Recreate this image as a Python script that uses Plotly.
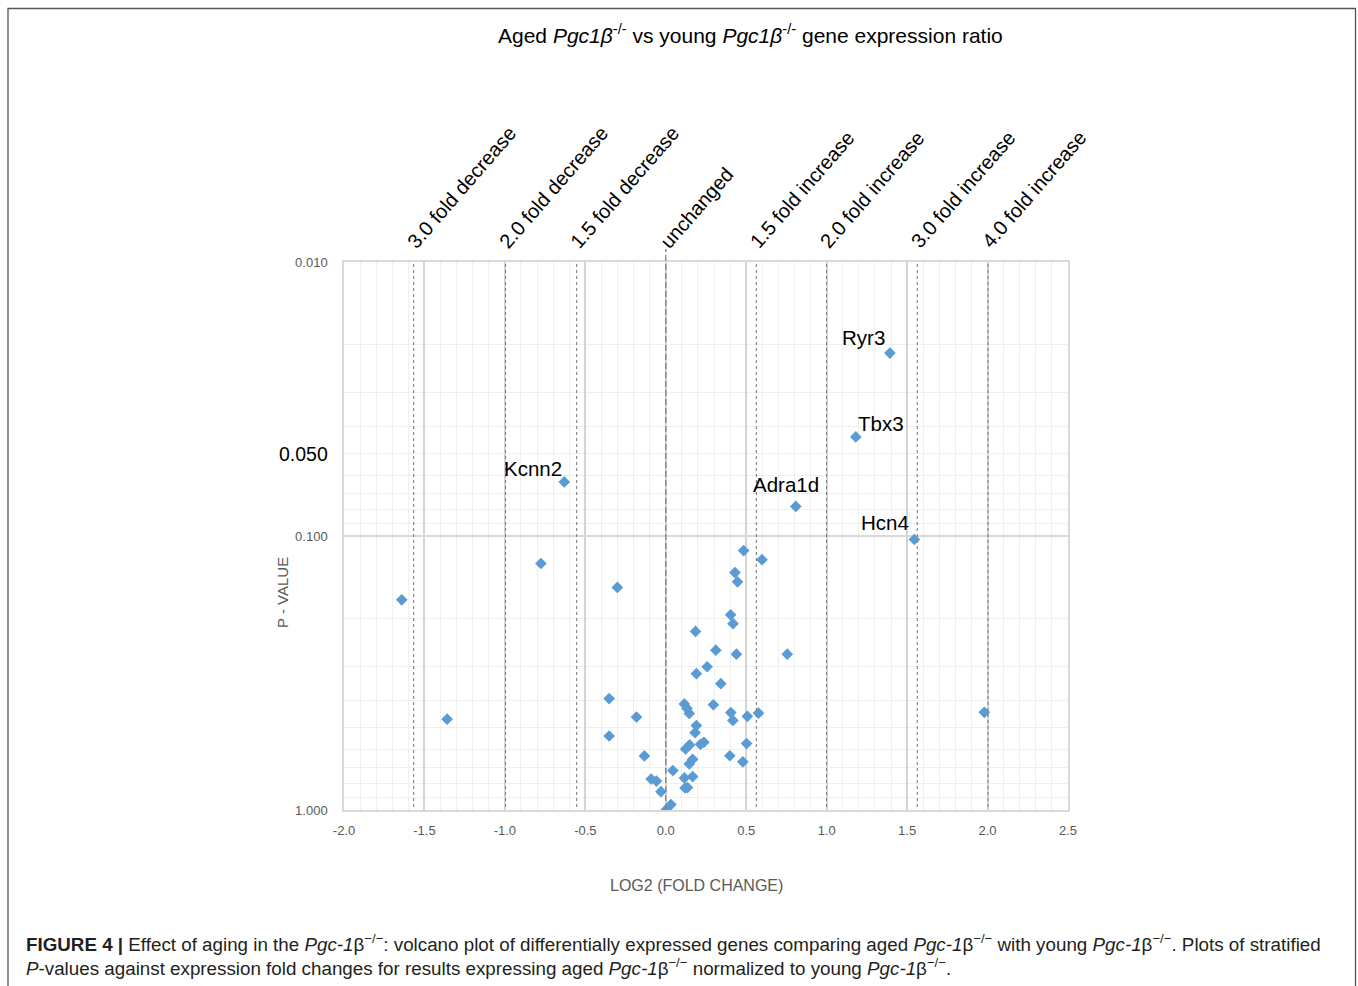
import math
import plotly.graph_objects as go

# ---- data -------------------------------------------------------------
# labelled genes (log2 fold change, p-value)
genes = ["Ryr3", "Tbx3", "Kcnn2", "Adra1d", "Hcn4"]
gene_log2fc = [1.393, 1.181, -0.631, 0.808, 1.545]
gene_pvalue = [0.0215, 0.0435, 0.0635, 0.078, 0.103]

# remaining genes
other_log2fc = [
    -1.641, -0.776, -0.301, -1.359, -0.352, -0.182, -0.352, -0.133, -0.091,
    -0.058, -0.030, 0.044, 0.004, 0.032, 0.484, 0.598, 0.430, 0.446, 0.403,
    0.418, 0.185, 0.311, 0.439, 0.755, 0.257, 0.190, 0.342, 0.115, 0.132,
    0.146, 0.296, 0.404, 0.417, 0.507, 0.576, 1.980, 0.190, 0.182, 0.216,
    0.237, 0.148, 0.123, 0.502, 0.398, 0.479, 0.167, 0.146, 0.167, 0.116,
    0.120, 0.135,
]
other_pvalue = [
    0.171, 0.126, 0.154, 0.466, 0.392, 0.458, 0.537, 0.635, 0.771,
    0.784, 0.857, 0.718, 0.995, 0.955, 0.113, 0.122, 0.136, 0.147, 0.194,
    0.209, 0.223, 0.261, 0.270, 0.270, 0.300, 0.318, 0.346, 0.410, 0.426,
    0.444, 0.413, 0.441, 0.471, 0.455, 0.443, 0.440, 0.492, 0.522, 0.576,
    0.566, 0.579, 0.599, 0.572, 0.634, 0.667, 0.653, 0.679, 0.755, 0.764,
    0.831, 0.828,
]

# fold-change reference lines
fold_labels = [
    "3.0 fold decrease", "2.0 fold decrease", "1.5 fold decrease", "unchanged",
    "1.5 fold increase", "2.0 fold increase", "3.0 fold increase", "4.0 fold increase",
]
fold_log2 = [-1.567, -0.996, -0.554, 0.0, 0.563, 0.999, 1.563, 2.003]

p_threshold = 0.05

x_ticks = [-2.0, -1.5, -1.0, -0.5, 0.0, 0.5, 1.0, 1.5, 2.0, 2.5]
y_ticks = [0.01, 0.1, 1.0]
y_ticktext = ["0.010", "0.100", "1.000"]
y_minor = [0.02, 0.03, 0.04, 0.05, 0.06, 0.07, 0.08, 0.09,
           0.2, 0.3, 0.4, 0.5, 0.6, 0.7, 0.8, 0.9]

# ---- styling ----------------------------------------------------------
W, H = 1358, 986
ML, MR, MT, MB = 344, 290, 262, 176
PW, PH = W - ML - MR, H - MT - MB

SANS = "Liberation Sans, Arial, sans-serif"
BLUE = "#5B9BD5"
TICK_GREY = "#595959"


def px_x(px):
    return (px - ML) / PW


def px_y(py):
    return (MT + PH - py) / PH


fig = go.Figure()

fig.add_trace(go.Scatter(
    x=other_log2fc + gene_log2fc,
    y=other_pvalue + gene_pvalue,
    mode="markers",
    marker=dict(symbol="diamond", size=9, color=BLUE, line=dict(width=0)),
    hoverinfo="x+y",
    showlegend=False,
))

shapes = []
# fold-change dashed verticals
for val, lab in zip(fold_log2, fold_labels):
    if lab == "unchanged":
        shapes.append(dict(type="line", xref="x", yref="paper", x0=val, x1=val,
                           y0=0, y1=px_y(249),
                           line=dict(color="#808080", width=1.3, dash="6px,3px"),
                           layer="above"))
    else:
        shapes.append(dict(type="line", xref="x", yref="paper", x0=val, x1=val,
                           y0=px_y(807), y1=1,
                           line=dict(color="#7f7f7f", width=1.1, dash="3px,3px"),
                           layer="above"))
# p = 0.05 threshold (log axis -> shape coordinates in log10 units)
p_log = math.log10(p_threshold)
shapes.append(dict(type="line", xref="paper", yref="y", x0=px_x(341), x1=1,
                   y0=p_log, y1=p_log,
                   line=dict(color="#7f7f7f", width=1.1, dash="3px,3px"),
                   layer="above"))
# outer frame
shapes.append(dict(type="rect", xref="paper", yref="paper",
                   x0=px_x(8), x1=px_x(1355.5), y0=px_y(1000), y1=px_y(8.5),
                   line=dict(color="#555555", width=1.3), layer="below"))

annotations = []
# fold labels
for val, lab in zip(fold_log2, fold_labels):
    annotations.append(dict(
        x=val, y=px_y(255), xref="x", yref="paper", text=lab, showarrow=False,
        textangle=-49, xanchor="left", yanchor="bottom", xshift=-13,
        font=dict(family=SANS, size=20, color="#000000"),
    ))

# gene labels
label_pos = {
    "Ryr3": dict(xanchor="right", yanchor="bottom", xshift=-3, yshift=2),
    "Tbx3": dict(xanchor="left", yanchor="bottom", xshift=0, yshift=0),
    "Kcnn2": dict(xanchor="right", yanchor="bottom", xshift=0, yshift=0),
    "Adra1d": dict(xanchor="center", yanchor="bottom", xshift=-10, yshift=8),
    "Hcn4": dict(xanchor="right", yanchor="bottom", xshift=-3, yshift=4),
}
for g, gx, gp in zip(genes, gene_log2fc, gene_pvalue):
    pos = label_pos[g]
    annotations.append(dict(
        x=gx, y=math.log10(gp), xref="x", yref="y", text=g, showarrow=False,
        font=dict(family=SANS, size=20.5, color="#000000"), **pos,
    ))

# threshold label on the p-value axis
annotations.append(dict(
    x=px_x(330), y=p_log, xref="paper", yref="y", text=f"{p_threshold:.3f}",
    showarrow=False, xanchor="right", yanchor="middle",
    font=dict(family=SANS, size=19.5, color="#000000"),
))

# title
annotations.append(dict(
    x=px_x(750), y=px_y(34), xref="paper", yref="paper",
    text="Aged <i>Pgc1β</i><sup>-/-</sup> vs young <i>Pgc1β</i><sup>-/-</sup> gene expression ratio",
    showarrow=False, xanchor="center", yanchor="middle",
    font=dict(family=SANS, size=21, color="#000000"),
))

# axis titles
annotations.append(dict(
    x=px_x(696), y=px_y(885), xref="paper", yref="paper",
    text="LOG2 (FOLD CHANGE)", showarrow=False, xanchor="center", yanchor="middle",
    font=dict(family=SANS, size=16, color=TICK_GREY),
))
annotations.append(dict(
    x=px_x(282), y=px_y(593), xref="paper", yref="paper",
    text="P - VALUE", showarrow=False, textangle=-90, xanchor="center", yanchor="middle",
    font=dict(family=SANS, size=15, color=TICK_GREY),
))

# caption
sup = "<sup>−/−</sup>"
cap1 = ("<b>FIGURE 4 |</b> Effect of aging in the <i>Pgc-1</i>β" + sup +
        ": volcano plot of differentially expressed genes comparing aged <i>Pgc-1</i>β" + sup +
        " with young <i>Pgc-1</i>β" + sup + ". Plots of stratified")
cap2 = ("<i>P</i>-values against expression fold changes for results expressing aged "
        "<i>Pgc-1</i>β" + sup + " normalized to young <i>Pgc-1</i>β" + sup + ".")
for txt, py in [(cap1, 943), (cap2, 967)]:
    annotations.append(dict(
        x=px_x(24), y=px_y(py), xref="paper", yref="paper", text=txt,
        showarrow=False, xanchor="left", yanchor="middle",
        font=dict(family=SANS, size=18.8, color="#231f20"),
    ))

fig.update_layout(
    width=W, height=H,
    margin=dict(l=ML, r=MR, t=MT, b=MB, pad=0),
    paper_bgcolor="white", plot_bgcolor="white",
    shapes=shapes, annotations=annotations,
    showlegend=False,
    xaxis=dict(
        range=[-2.0, 2.5], tickvals=x_ticks, ticktext=[f"{v:.1f}" for v in x_ticks],
        showgrid=True, gridcolor="#d4d4d4", gridwidth=1.5,
        minor=dict(dtick=0.1, tick0=0, showgrid=True, gridcolor="#efefef", gridwidth=1),
        showline=True, mirror=True, linecolor="#d9d9d9", linewidth=1.5,
        zeroline=False, ticks="", ticklabelstandoff=8,
        tickfont=dict(family=SANS, size=13, color=TICK_GREY),
    ),
    yaxis=dict(
        type="log", range=[0, -2], tickvals=y_ticks, ticktext=y_ticktext,
        showgrid=True, gridcolor="#d9d9d9", gridwidth=1.5,
        minor=dict(tickmode="array", tickvals=y_minor, showgrid=True,
                   gridcolor="#efefef", gridwidth=1),
        showline=True, mirror=True, linecolor="#d9d9d9", linewidth=1.5,
        zeroline=False, ticks="", ticklabelstandoff=12,
        tickfont=dict(family=SANS, size=13, color=TICK_GREY),
    ),
)

fig.write_html("out.html")
